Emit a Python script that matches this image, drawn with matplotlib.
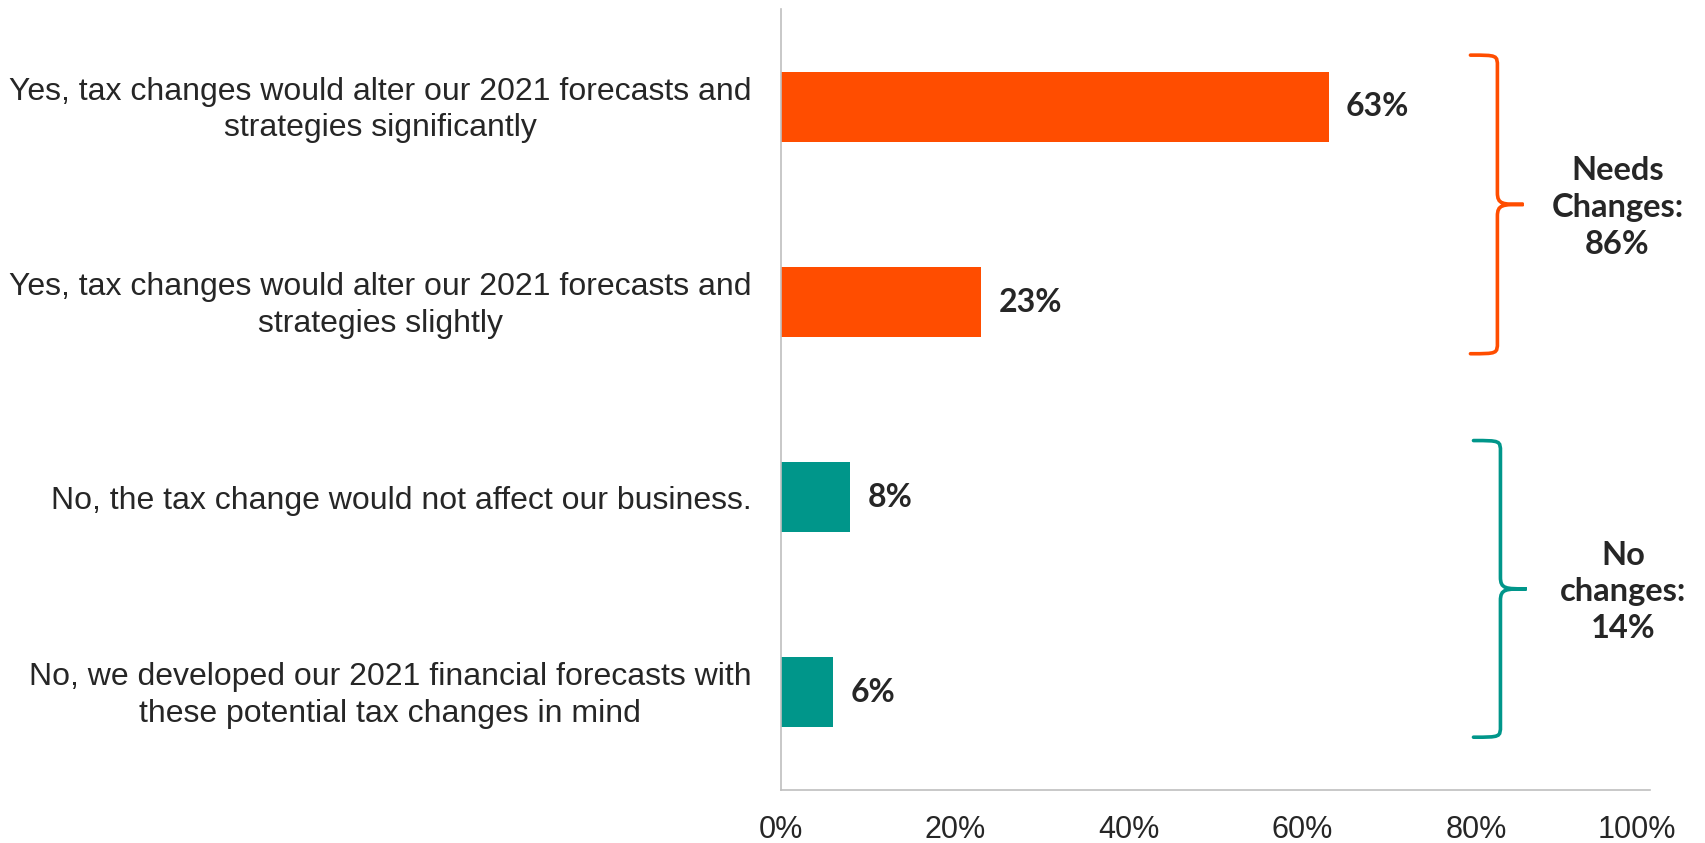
import matplotlib
matplotlib.use('Agg')
import matplotlib.pyplot as plt
from matplotlib.path import Path
from matplotlib.patches import PathPatch

categories = ['Yes, tax changes would alter our 2021 forecasts and\nstrategies significantly',
              'Yes, tax changes would alter our 2021 forecasts and\nstrategies slightly',
              'No, the tax change would not affect our business.',
              'No, we developed our 2021 financial forecasts with\nthese potential tax changes in mind']
values = [63, 23, 8, 6]
xticks = [0, 20, 40, 60, 80, 100]
xtick_labels = ['0%', '20%', '40%', '60%', '80%', '100%']
groups = ['Needs\nChanges:\n86%', 'No\nchanges:\n14%']
group_members = [[0, 1], [2, 3]]

orange = '#FF4D00'
teal = '#00968A'
bar_colors = [orange, orange, teal, teal]
text_col = '#262626'
grey = '#BFBFBF'

fig = plt.figure(figsize=(17.05, 8.43), dpi=100)
ax = fig.add_axes([0.458, 0.063, 0.510, 0.926])

y = list(range(len(categories)))
ax.barh(y, values, height=0.36, color=bar_colors)
ax.set_xlim(0, 100)
ax.set_ylim(3.5, -0.5)

for i, v in enumerate(values):
    ax.text(v + 2.0, i, f'{v}%', va='center', ha='left', fontsize=23,
            fontweight='bold', family='Lato', color=text_col)

# category labels
ax.set_yticks(y)
ax.set_yticklabels([])
for i, lab in enumerate(categories):
    dy = -2.3 if '\n' in lab else -3.1
    ax.annotate(lab, xy=(0, i), xycoords=('axes fraction', 'data'),
                xytext=(-21, dy), textcoords='offset points', ha='right', va='center',
                multialignment='center', fontsize=23, family='Liberation Sans',
                color=text_col, linespacing=1.3)

ax.set_xticks(xticks)
ax.set_xticklabels(xtick_labels[:-1] + [''], fontsize=22,
                   family='Liberation Sans', color=text_col)
# last label nudged left so it fits
ax.annotate(xtick_labels[-1], xy=(xticks[-1], 0), xycoords=('data', 'axes fraction'),
            xytext=(-10, -18), textcoords='offset points', ha='center', va='top',
            fontsize=22, family='Liberation Sans', color=text_col)
ax.tick_params(axis='both', length=0)
ax.tick_params(axis='x', pad=18)
for s in ['top', 'right']:
    ax.spines[s].set_visible(False)
for s in ['left', 'bottom']:
    ax.spines[s].set_color(grey)
    ax.spines[s].set_linewidth(1.2)


def brace(ax, x0, xv, xt, ytop, ybot, r, color):
    ymid = (ytop + ybot) / 2
    verts = [(x0, ytop), (xv, ytop), (xv, ytop), (xv, ytop + r),
             (xv, ymid - r),
             (xv, ymid), (xv + (xt - xv) * 0.2, ymid), (xt, ymid),
             (xv + (xt - xv) * 0.2, ymid), (xv, ymid), (xv, ymid + r),
             (xv, ybot - r),
             (xv, ybot), (xv, ybot), (x0, ybot)]
    codes = [Path.MOVETO, Path.CURVE4, Path.CURVE4, Path.CURVE4,
             Path.LINETO,
             Path.CURVE4, Path.CURVE4, Path.CURVE4,
             Path.CURVE4, Path.CURVE4, Path.CURVE4,
             Path.LINETO,
             Path.CURVE4, Path.CURVE4, Path.CURVE4]
    ax.add_patch(PathPatch(Path(verts, codes), fill=False, edgecolor=color,
                           lw=2.6, clip_on=False, capstyle='round'))


spans = [(-0.265, 1.265), (1.71, 3.23)]
for g, (label, members) in enumerate(zip(groups, group_members)):
    col = bar_colors[members[0]]
    top, bot = spans[g]
    shift = 0.35 if g == 1 else 0.0
    brace(ax, 79.3 + shift, 82.4 + shift, 85.4 + shift, top, bot, 0.06, col)
    ax.text(96.2 + shift * 2, (top + bot) / 2 + 0.015, label, ha='center', va='center',
            fontsize=23.5, fontweight='bold', family='Lato', color=text_col,
            linespacing=1.32)

fig.savefig('out.png', dpi=100)
